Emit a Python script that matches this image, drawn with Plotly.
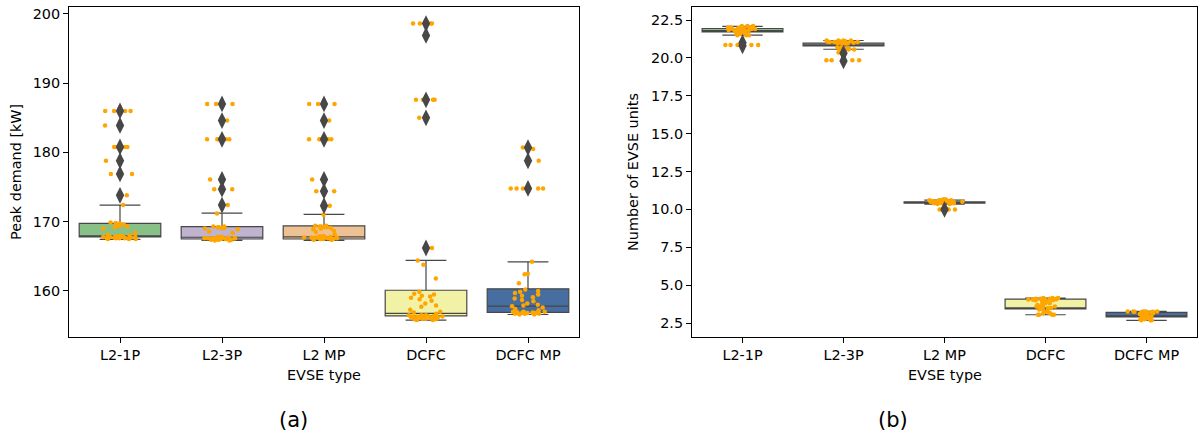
import plotly.graph_objects as go

# ---------------- data ----------------
categories = ["L2-1P", "L2-3P", "L2 MP", "DCFC", "DCFC MP"]
box_colors = ["#88c088", "#bfb3cf", "#eec195", "#f2f2a6", "#476ea1"]

# (a) Peak demand [kW] - box statistics
peak_q1 = [167.8, 167.5, 167.5, 156.4, 156.9]
peak_median = [167.9, 167.75, 167.8, 156.75, 157.8]
peak_q3 = [169.75, 169.3, 169.4, 160.1, 160.3]
peak_low = [167.45, 167.3, 167.3, 155.8, 156.6]
peak_high = [172.4, 171.25, 171.05, 164.4, 164.2]
peak_outliers = [
    [186.0, 183.9, 180.8, 178.8, 176.9, 173.8],
    [187.0, 184.6, 181.9, 176.1, 174.7, 172.4],
    [187.0, 184.6, 181.9, 176.1, 174.4, 172.3],
    [198.6, 196.9, 187.6, 185.0, 166.2],
    [180.7, 178.8, 174.8],
]
peak_points = [
    [186.0] * 4 + [183.9] + [180.8] * 5 + [178.8] + [176.9] * 2 + [173.8, 172.4]
    + [169.9, 169.8, 169.7, 169.7, 169.6, 169.5, 169.5, 169.4, 169.3, 169.2, 169.0, 168.4, 168.1, 168.0]
    + [167.9] * 4 + [167.8] * 5 + [167.7] * 5 + [167.6] * 5 + [167.5] * 3,
    [187.0] * 3 + [184.6] + [181.9] * 6 + [176.1] + [174.7] * 2 + [172.4, 171.2]
    + [169.3, 169.3, 169.2, 169.2, 169.1, 169.1, 169.0, 168.9, 168.6, 168.4]
    + [167.8] * 3 + [167.7] * 5 + [167.6] * 6 + [167.5] * 6 + [167.4] * 4 + [167.3] * 2,
    [187.0] * 3 + [184.6] + [181.9] * 6 + [176.1] + [174.4] * 2 + [172.3, 171.0]
    + [169.4, 169.4, 169.3, 169.3, 169.2, 169.2, 169.1, 169.0, 168.9, 168.7, 168.5, 168.2]
    + [167.9] * 3 + [167.8] * 4 + [167.7] * 6 + [167.6] * 6 + [167.5] * 5 + [167.4] * 2,
    [198.6] * 4 + [196.9] + [187.6] * 4 + [185.0, 166.2, 164.4, 163.8, 161.8]
    + [159.9, 159.6, 159.5, 159.3, 159.2, 159.0, 158.8, 158.6, 158.2, 157.9, 157.7, 157.3, 157.0]
    + [156.9, 156.7] + [156.5] * 3 + [156.4] * 4 + [156.3] * 4 + [156.2] * 4 + [156.1] * 3
    + [156.0] * 3 + [155.9] * 2 + [155.8] * 2,
    [180.5, 180.5, 180.7] + [178.8] + [174.8] * 5 + [164.2, 162.5, 162.4, 161.1]
    + [160.2, 160.0, 159.9, 159.7, 159.5, 159.3, 159.1, 158.9, 158.7, 158.5, 158.2, 158.0,
       157.9, 157.8, 157.6, 157.4, 157.2]
    + [157.0] * 4 + [156.9] * 4 + [156.8] * 4 + [156.7] * 3 + [156.6] * 2,
]

# (b) Number of EVSE units - box statistics
units_q1 = [21.72, 20.8, 10.42, 3.43, 2.9]
units_median = [21.8, 20.85, 10.45, 3.43, 2.98]
units_q3 = [21.94, 20.98, 10.5, 4.08, 3.21]
units_low = [21.5, 20.57, 10.35, 3.05, 2.68]
units_high = [22.08, 21.15, 10.62, 4.15, 3.27]
units_outliers = [
    [21.0, 20.8],
    [20.3, 19.8],
    [10.0],
    [],
    [],
]
units_points = [
    [22.1] * 3 + [22.0] * 5 + [21.95] * 5 + [21.9] * 6 + [21.85] * 4 + [21.8] * 3
    + [21.7] * 3 + [21.6] * 2 + [21.5] * 3 + [20.85] * 5,
    [21.15] * 4 + [21.1] * 5 + [21.05] * 5 + [21.0] * 5 + [20.95] * 3
    + [20.7] * 2 + [20.6] * 3 + [20.55] * 3 + [20.35] + [19.85] * 4,
    [10.65] * 3 + [10.6] * 5 + [10.55] * 6 + [10.5] * 6 + [10.45] * 5 + [10.4] * 3
    + [10.35] * 2 + [10.0] * 6,
    [4.15] * 3 + [4.1] * 4 + [4.05] * 5 + [4.0] * 4 + [3.9] * 2 + [3.8] * 3 + [3.7] * 2
    + [3.6] * 3 + [3.5] * 3 + [3.4] * 2 + [3.25] * 2 + [3.15] * 2 + [3.05] * 4,
    [3.27] * 4 + [3.25] * 5 + [3.2] * 4 + [3.15] * 3 + [3.1] * 2 + [2.95] * 3 + [2.9] * 3
    + [2.8] * 2 + [2.75] * 2 + [2.68] * 3,
]

peak_ticks = [160, 170, 180, 190, 200]
units_ticks = [2.5, 5.0, 7.5, 10.0, 12.5, 15.0, 17.5, 20.0, 22.5]

# ---------------- figure ----------------
W, H = 1202, 437
FONT = "DejaVu Sans"
LINE_GRAY = "#474747"
ORANGE = "#ffa500"
TXT = 14.4

fig = go.Figure()


def strip_trace(cat, vals, xa, ya, jit):
    return go.Box(
        x=[cat] * len(vals), y=vals, boxpoints="all", jitter=jit, pointpos=0, width=0.8,
        fillcolor="rgba(0,0,0,0)", line=dict(color="rgba(0,0,0,0)", width=0),
        marker=dict(color=ORANGE, size=4.5, line=dict(width=0)),
        xaxis=xa, yaxis=ya, showlegend=False, hoverinfo="skip",
    )


def add_panel(xa, ya, q1, med, q3, lo, hi, outl, pts):
    for i, cat in enumerate(categories):
        fig.add_trace(go.Box(
            x=[cat], q1=[q1[i]], median=[med[i]], q3=[q3[i]],
            lowerfence=[lo[i]], upperfence=[hi[i]],
            boxpoints=False, width=0.8, whiskerwidth=0.5,
            fillcolor=box_colors[i], line=dict(color=LINE_GRAY, width=1.2),
            xaxis=xa, yaxis=ya, showlegend=False, hoverinfo="skip",
        ))
    ox, oy = [], []
    for i, cat in enumerate(categories):
        ox += [cat] * len(outl[i])
        oy += outl[i]
    fig.add_trace(go.Scatter(
        x=ox, y=oy, mode="markers",
        marker=dict(symbol="diamond-tall", size=12, color=LINE_GRAY, line=dict(width=0)),
        xaxis=xa, yaxis=ya, showlegend=False, hoverinfo="skip",
    ))
    # sample points, split into groups so plotly's density-based jitter spreads each group
    for i, cat in enumerate(categories):
        inside = [v for v in pts[i] if lo[i] <= v <= hi[i]]
        outside = [v for v in pts[i] if not (lo[i] <= v <= hi[i])]
        repeated = [v for v in inside if inside.count(v) > 1]
        single = [v for v in inside if inside.count(v) == 1]
        for group, jit in ((repeated, 0.5), (single, 0.5), (outside, 0.5)):
            if group:
                fig.add_trace(strip_trace(cat, group, xa, ya, jit))


add_panel("x", "y", peak_q1, peak_median, peak_q3, peak_low, peak_high, peak_outliers, peak_points)
add_panel("x2", "y2", units_q1, units_median, units_q3, units_low, units_high, units_outliers, units_points)

ydom = [1 - 337 / H, 1 - 7 / H]
xdom1 = [69 / W, 579 / W]
xdom2 = [692 / W, 1197 / W]

axis_common = dict(
    showline=True, linecolor="black", linewidth=1, mirror=True,
    ticks="outside", ticklen=5, tickwidth=1, tickcolor="black",
    showgrid=False, zeroline=False,
    tickfont=dict(family=FONT, size=TXT, color="black"),
    automargin=False,
)

fig.update_layout(
    width=W, height=H,
    margin=dict(l=0, r=0, t=0, b=0),
    paper_bgcolor="white", plot_bgcolor="white",
    boxmode="overlay",
    showlegend=False,
    font=dict(family=FONT, size=TXT, color="black"),
    xaxis=dict(domain=xdom1, type="category", categoryorder="array",
               categoryarray=categories, range=[-0.5, 4.5], anchor="y", **axis_common),
    yaxis=dict(domain=ydom, range=[153.35, 201.0], tickvals=peak_ticks, anchor="x", **axis_common),
    xaxis2=dict(domain=xdom2, type="category", categoryorder="array",
                categoryarray=categories, range=[-0.5, 4.5], anchor="y2", **axis_common),
    yaxis2=dict(domain=ydom, range=[1.58, 23.36], tickvals=units_ticks, tickformat=".1f",
                anchor="x2", **axis_common),
)

ann = dict(xref="paper", yref="paper", showarrow=False,
           font=dict(family=FONT, size=TXT, color="black"))
fig.add_annotation(text="EVSE type", x=324 / W, y=1 - 375 / H, xanchor="center", yanchor="middle", **ann)
fig.add_annotation(text="EVSE type", x=944.5 / W, y=1 - 375 / H, xanchor="center", yanchor="middle", **ann)
fig.add_annotation(text="Peak demand [kW]", x=16 / W, y=1 - 172 / H, textangle=-90,
                   xanchor="center", yanchor="middle", **ann)
fig.add_annotation(text="Number of EVSE units", x=633 / W, y=1 - 172 / H, textangle=-90,
                   xanchor="center", yanchor="middle", **ann)
ann_big = dict(ann)
ann_big["font"] = dict(family=FONT, size=21, color="black")
fig.add_annotation(text="(a)", x=293 / W, y=1 - 420 / H, xanchor="center", yanchor="middle", **ann_big)
fig.add_annotation(text="(b)", x=893 / W, y=1 - 420 / H, xanchor="center", yanchor="middle", **ann_big)

fig.write_html("out.html", post_script="document.body.style.margin='0';",
               config={"displayModeBar": False})
